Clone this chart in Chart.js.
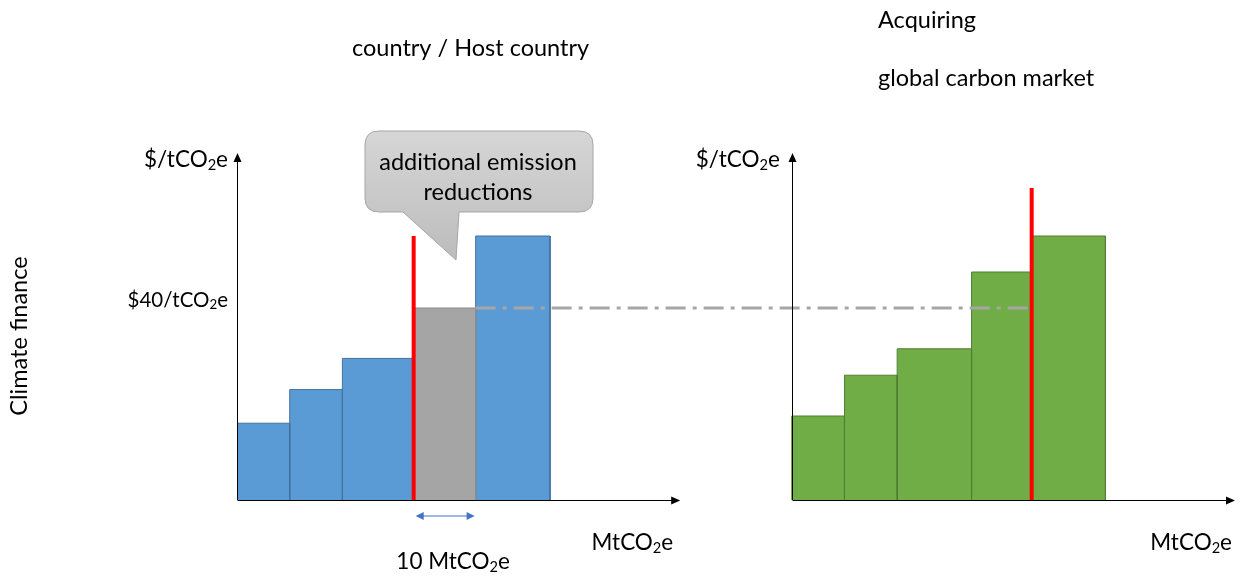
<!DOCTYPE html>
<html>
<head>
<meta charset="utf-8">
<script src="https://cdn.jsdelivr.net/npm/chart.js@4.4.0/dist/chart.umd.min.js"></script>
<style>
  html, body { margin: 0; padding: 0; background: #fff; }
  #wrap { width: 1243px; height: 579px; position: relative; }
</style>
</head>
<body>
<div id="wrap"><canvas id="chart"></canvas></div>
<script>
// host country abatement curve: block edges (MtCO2e) and cost ($/tCO2e)
const hostEdges = [0, 8.5, 17, 28.5, 38.5, 50.5];
const hostCosts = [16, 23, 29.5, 40, 55];
const hostFill = ['#5b9bd5', '#5b9bd5', '#5b9bd5', '#a5a5a5', '#5b9bd5'];
const hostLine = ['#41719c', '#41719c', '#41719c', '#8c8c8c', '#41719c'];
// global carbon market curve, drawn to the right of the host panel
const globalStart = 89.5;
const globalEdges = [0, 8.5, 17, 29, 38.7, 50.6];
const globalCosts = [17.5, 26, 31.5, 47.5, 55];
// red cut-off lines and the $40 price line
const hostCut = 28.5, hostCutTop = 55;
const globalCut = 38.7, globalCutTop = 65;
const carbonPrice = 40;
const priceFrom = 38.5;
// axis lengths
const axisLenX = 71.5, axisLenY = 72.3;

const FONT = "Lato, 'Open Sans', sans-serif";

function block(x0, x1, h) {
    return [{x: x0, y: 0}, {x: x0, y: h}, {x: x1, y: h}, {x: x1, y: 0}];
}

const datasets = [];
datasets.push({
    data: [{x: hostCut, y: 0}, {x: hostCut, y: hostCutTop}],
    borderColor: '#ff0000', borderWidth: 4, fill: false
});
datasets.push({
    data: [{x: globalStart + globalCut, y: 0}, {x: globalStart + globalCut, y: globalCutTop}],
    borderColor: '#ff0000', borderWidth: 4, fill: false
});
datasets.push({
    data: [{x: priceFrom, y: carbonPrice}, {x: globalStart + globalCut - 0.3, y: carbonPrice}],
    borderColor: '#a6a6a6', borderWidth: 3, borderDash: [20, 7, 4, 7], fill: false
});
hostCosts.forEach((c, i) => {
    datasets.push({
        data: block(hostEdges[i], hostEdges[i + 1], c),
        borderColor: hostLine[i], borderWidth: 1,
        backgroundColor: hostFill[i], fill: 'origin'
    });
});
globalCosts.forEach((c, i) => {
    datasets.push({
        data: block(globalStart + globalEdges[i], globalStart + globalEdges[i + 1], c),
        borderColor: '#507e32', borderWidth: 1,
        backgroundColor: '#70ad47', fill: 'origin'
    });
});

// text with a subscript "2"
function subText(ctx, parts, x, y, size, align) {
    let w = 0;
    parts.forEach(p => {
        ctx.font = (p[1] ? size * 0.65 : size) + 'px ' + FONT;
        w += ctx.measureText(p[0]).width;
    });
    let cx = align === 'right' ? x - w : align === 'center' ? x - w / 2 : x;
    ctx.textBaseline = 'middle';
    ctx.textAlign = 'left';
    parts.forEach(p => {
        ctx.font = (p[1] ? size * 0.65 : size) + 'px ' + FONT;
        ctx.fillText(p[0], cx, p[1] ? y + size * 0.22 : y);
        cx += ctx.measureText(p[0]).width;
    });
}

function arrowHead(ctx, x, y, dir) {
    ctx.beginPath();
    if (dir === 'up') {
        ctx.moveTo(x, y); ctx.lineTo(x - 4, y + 9); ctx.lineTo(x + 4, y + 9);
    } else {
        ctx.moveTo(x, y); ctx.lineTo(x - 9, y - 4); ctx.lineTo(x - 9, y + 4);
    }
    ctx.closePath();
    ctx.fill();
}

const overlay = {
    id: 'overlay',
    afterDraw(chart) {
        const ctx = chart.ctx;
        const xs = chart.scales.x, ys = chart.scales.y;
        const y0 = ys.getPixelForValue(0);
        ctx.save();
        ctx.fillStyle = '#000';
        ctx.strokeStyle = '#000';
        ctx.lineWidth = 1;
        // axes for both panels
        [0, globalStart].forEach(o => {
            const ox = Math.round(xs.getPixelForValue(o)) + 0.5;
            const top = ys.getPixelForValue(axisLenY);
            const right = xs.getPixelForValue(o + axisLenX);
            ctx.beginPath();
            ctx.moveTo(ox, y0); ctx.lineTo(ox, top + 4);
            ctx.moveTo(ox, Math.round(y0) + 0.5); ctx.lineTo(right - 4, Math.round(y0) + 0.5);
            ctx.stroke();
            arrowHead(ctx, ox, top, 'up');
            arrowHead(ctx, right, Math.round(y0) + 0.5, 'right');
        });

        const fs = 22.5;
        ctx.fillStyle = '#000';
        const unitY = [['$/tCO', false], ['2', true], ['e', false]];
        const unitX = [['MtCO', false], ['2', true], ['e', false]];
        subText(ctx, unitY, xs.getPixelForValue(0) - 9, 160, fs, 'right');
        subText(ctx, unitY, xs.getPixelForValue(globalStart) - 12, 160, fs, 'right');
        subText(ctx, [['$40/tCO', false], ['2', true], ['e', false]], xs.getPixelForValue(0) - 9,
            ys.getPixelForValue(carbonPrice) - 8, 20.5, 'right');
        subText(ctx, unitX, xs.getPixelForValue(axisLenX) - 7, 543, fs, 'right');
        subText(ctx, unitX, xs.getPixelForValue(globalStart + axisLenX) - 3, 543, fs, 'right');

        // 10 MtCO2e bracket
        const a = xs.getPixelForValue(hostCut) + 2, b = xs.getPixelForValue(hostEdges[4]) - 1;
        const ay = y0 + 16;
        ctx.strokeStyle = '#4472c4';
        ctx.fillStyle = '#4472c4';
        ctx.lineWidth = 1.2;
        ctx.beginPath(); ctx.moveTo(a + 6, ay); ctx.lineTo(b - 6, ay); ctx.stroke();
        ctx.beginPath(); ctx.moveTo(a, ay); ctx.lineTo(a + 8, ay - 4); ctx.lineTo(a + 8, ay + 4); ctx.closePath(); ctx.fill();
        ctx.beginPath(); ctx.moveTo(b, ay); ctx.lineTo(b - 8, ay - 4); ctx.lineTo(b - 8, ay + 4); ctx.closePath(); ctx.fill();
        ctx.fillStyle = '#000';
        subText(ctx, [['10 MtCO', false], ['2', true], ['e', false]], (a + b) / 2 + 8, 562, fs, 'center');

        // callout
        const bx = 365, by = 131, bw = 228, bh = 81, r = 14;
        const tipX = 456, tipY = 260;
        const g = ctx.createLinearGradient(0, by, 0, tipY);
        g.addColorStop(0, '#d6d6d6');
        g.addColorStop(1, '#bcbcbc');
        ctx.beginPath();
        ctx.moveTo(bx + r, by);
        ctx.lineTo(bx + bw - r, by);
        ctx.quadraticCurveTo(bx + bw, by, bx + bw, by + r);
        ctx.lineTo(bx + bw, by + bh - r);
        ctx.quadraticCurveTo(bx + bw, by + bh, bx + bw - r, by + bh);
        ctx.lineTo(459, by + bh);
        ctx.lineTo(tipX, tipY);
        ctx.lineTo(403, by + bh);
        ctx.lineTo(bx + r, by + bh);
        ctx.quadraticCurveTo(bx, by + bh, bx, by + bh - r);
        ctx.lineTo(bx, by + r);
        ctx.quadraticCurveTo(bx, by, bx + r, by);
        ctx.closePath();
        ctx.fillStyle = g;
        ctx.fill();
        ctx.strokeStyle = '#a6a6a6';
        ctx.lineWidth = 1;
        ctx.stroke();
        const ts = 23.5;
        ctx.fillStyle = '#000';
        ctx.font = ts + 'px ' + FONT;
        ctx.textAlign = 'center';
        ctx.textBaseline = 'middle';
        ctx.fillText('additional emission', bx + bw / 2 - 1, 162);
        ctx.fillText('reductions', bx + bw / 2 - 1, 192);

        // titles
        ctx.textAlign = 'left';
        ctx.fillText('country / Host country', 352, 48);
        ctx.fillText('Acquiring', 878, 20);
        ctx.fillText('global carbon market', 878, 78);

        // side label
        ctx.save();
        ctx.translate(19, 336);
        ctx.rotate(-Math.PI / 2);
        ctx.textAlign = 'center';
        ctx.fillText('Climate finance', 0, 0);
        ctx.restore();
        ctx.restore();
    }
};

new Chart(document.getElementById('chart'), {
    type: 'line',
    data: { datasets },
    options: {
        responsive: true,
        maintainAspectRatio: false,
        animation: false,
        layout: { padding: { left: 237, right: 8, top: 116, bottom: 79 } },
        elements: { point: { radius: 0, hoverRadius: 0 }, line: { tension: 0 } },
        scales: {
            x: { type: 'linear', min: 0, max: 161, display: false },
            y: { type: 'linear', min: 0, max: 80, display: false }
        },
        plugins: { legend: { display: false }, tooltip: { enabled: false } }
    },
    plugins: [overlay]
});
</script>
</body>
</html>
